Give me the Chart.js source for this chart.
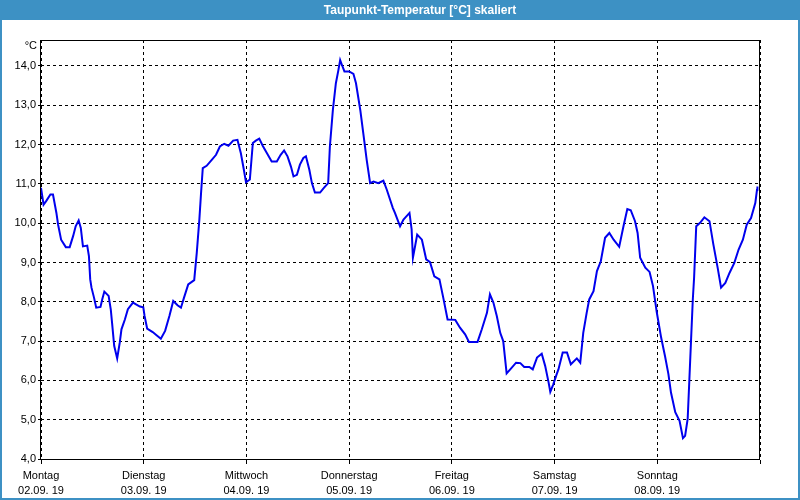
<!DOCTYPE html>
<html>
<head>
<meta charset="utf-8">
<script src="https://cdn.jsdelivr.net/npm/chart.js@4.4.1/dist/chart.umd.min.js"></script>
<style>
  html, body { margin: 0; padding: 0; background: #fff; }
  #wrap { width: 800px; height: 500px; }
</style>
</head>
<body>
<div id="wrap"><canvas id="c" width="800" height="500"></canvas></div>
<script>
const titleText = 'Taupunkt-Temperatur [°C] skaliert';
const unitLabel = '°C';
const dayNames = ['Montag', 'Dienstag', 'Mittwoch', 'Donnerstag', 'Freitag', 'Samstag', 'Sonntag'];
const dayDates = ['02.09. 19', '03.09. 19', '04.09. 19', '05.09. 19', '06.09. 19', '07.09. 19', '08.09. 19'];
const yTickValues = [4, 5, 6, 7, 8, 9, 10, 11, 12, 13, 14];

// hours since Monday 02.09.19 00:00
const hours = [
  0, 0.6, 1.2, 2.2, 2.8, 3.6, 4.0, 4.7, 5.8, 6.7, 7.5, 8.1, 8.8, 9.3, 9.8, 10.8, 11.2, 11.5, 11.8, 12.4,
  12.9, 13.9, 14.3, 14.8, 15.8, 16.3, 16.6, 17.1, 17.8, 18.4, 18.8, 19.6, 20.3, 21.5, 22.3, 23.1, 23.9, 24.2, 24.8, 26.1,
  27.0, 28.0, 29.0, 30.0, 30.9, 31.9, 32.7, 33.4, 34.4, 35.8, 36.4, 37.0, 37.4, 37.8, 38.7, 39.9, 40.9, 41.8, 42.8, 43.8,
  44.9, 45.9, 46.7, 47.4, 47.9, 48.8, 49.5, 50.2, 51.0, 51.8, 52.8, 53.9, 55.1, 56.0, 56.8, 57.6, 58.4, 59.0, 59.8, 60.5,
  61.3, 61.9, 62.7, 63.3, 64.0, 65.2, 66.1, 67.1, 67.5, 68.2, 68.9, 69.5, 69.9, 70.3, 70.9, 72.0, 73.0, 73.6, 74.6, 75.3,
  76.1, 76.9, 77.7, 78.8, 80.0, 80.8, 82.2, 82.7, 83.9, 84.7, 86.1, 86.6, 86.9, 87.4, 87.9, 89.0, 90.0, 90.9, 91.9, 93.1,
  94.0, 95.0, 96.8, 97.9, 99.1, 100.0, 102.0, 103.0, 104.2, 104.9, 105.7, 106.5, 107.3, 108.0, 108.8, 109.8, 111.0, 112.0, 112.9, 114.1,
  114.9, 115.9, 117.0, 117.8, 118.6, 119.0, 119.7, 120.5, 120.9, 121.9, 122.9, 123.8, 125.2, 126.0, 126.7, 127.5, 128.1, 129.1, 129.9, 130.8,
  131.8, 132.8, 133.8, 135.1, 136.1, 137.0, 137.8, 138.8, 139.4, 140.0, 141.2, 142.2, 143.0, 143.9, 144.9, 145.8, 146.6, 147.2, 148.2, 149.2,
  150.0, 150.5, 151.1, 151.5, 151.9, 152.3, 152.6, 153.1, 154.0, 155.0, 156.2, 157.1, 158.1, 158.9, 159.9, 160.9, 162.0, 163.0, 164.0, 164.9,
  165.9, 166.9, 167.3, 167.4
];
const dewPoint = [
  10.90, 10.47, 10.56, 10.73, 10.73, 10.26, 9.96, 9.58, 9.39, 9.39, 9.67, 9.92, 10.07, 9.88, 9.41, 9.43, 9.16, 8.57, 8.36, 8.10,
  7.85, 7.87, 8.06, 8.26, 8.15, 7.81, 7.47, 6.88, 6.56, 6.96, 7.30, 7.55, 7.81, 7.98, 7.93, 7.88, 7.86, 7.64, 7.32, 7.23,
  7.15, 7.06, 7.26, 7.64, 8.02, 7.91, 7.85, 8.10, 8.44, 8.55, 9.25, 10.09, 10.77, 11.40, 11.46, 11.61, 11.74, 11.95, 12.02, 11.97,
  12.10, 12.12, 11.78, 11.36, 11.04, 11.11, 12.04, 12.10, 12.15, 11.97, 11.78, 11.57, 11.57, 11.74, 11.85, 11.70, 11.44, 11.19, 11.23, 11.49,
  11.66, 11.70, 11.36, 11.02, 10.78, 10.78, 10.90, 11.02, 11.95, 12.88, 13.56, 13.90, 14.15, 14.03, 13.86, 13.86, 13.80, 13.56, 12.88, 12.29,
  11.61, 11.02, 11.06, 11.02, 11.08, 10.85, 10.39, 10.26, 9.92, 10.09, 10.26, 9.84, 9.12, 9.41, 9.71, 9.58, 9.08, 9.01, 8.65, 8.57,
  8.10, 7.55, 7.54, 7.34, 7.17, 6.98, 6.98, 7.30, 7.72, 8.19, 7.98, 7.64, 7.21, 7.00, 6.18, 6.30, 6.45, 6.44, 6.34, 6.34,
  6.28, 6.58, 6.68, 6.37, 5.95, 5.71, 5.90, 6.16, 6.28, 6.71, 6.71, 6.41, 6.56, 6.45, 7.21, 7.72, 8.06, 8.27, 8.78, 9.03,
  9.63, 9.75, 9.58, 9.40, 9.92, 10.36, 10.33, 10.05, 9.75, 9.12, 8.87, 8.76, 8.40, 7.72, 7.09, 6.62, 6.16, 5.69, 5.19, 4.97,
  4.53, 4.59, 5.02, 6.03, 7.05, 8.06, 8.61, 9.92, 10.01, 10.15, 10.05, 9.46, 8.87, 8.36, 8.48, 8.74, 8.99, 9.33, 9.58, 9.96,
  10.13, 10.51, 10.85, 10.93
];

const yMin = 3.975, yMax = 14.66, xMax = 168;

const points = hours.map((h, i) => ({ x: h, y: dewPoint[i] }));

const framePlugin = {
  id: 'frame',
  beforeDraw(chart) {
    const ctx = chart.ctx, W = chart.width, H = chart.height;
    ctx.save();
    ctx.fillStyle = '#ffffff';
    ctx.fillRect(0, 0, W, H);
    ctx.fillStyle = '#3d91c4';
    ctx.fillRect(0, 0, W, 20);
    ctx.fillRect(0, 20, 2, H - 20);
    ctx.fillRect(W - 2, 20, 2, H - 20);
    ctx.fillRect(0, H - 2, W, 2);
    ctx.restore();
  },
  beforeDatasetsDraw(chart) {
    const ctx = chart.ctx, a = chart.chartArea;
    const L = Math.round(a.left) - 0.5, T = Math.round(a.top) + 0.5;
    const R = Math.round(a.right) - 0.5, B = Math.round(a.bottom) - 0.5;
    ctx.save();
    ctx.strokeStyle = '#000';
    ctx.lineWidth = 1;
    ctx.setLineDash([]);
    ctx.strokeRect(L, T, R - L, B - T);
    ctx.fillStyle = '#000';
    ctx.font = '11px "Liberation Sans", Arial, sans-serif';
    ctx.textAlign = 'right';
    ctx.textBaseline = 'middle';
    ctx.fillText(unitLabel, 37, 46);
    ctx.restore();
  }
};

const tickFont = { family: '"Liberation Sans", Arial, sans-serif', size: 11, lineHeight: 15 / 11 };

new Chart(document.getElementById('c'), {
  type: 'line',
  data: {
    datasets: [{
      data: points,
      borderColor: '#0000ee',
      borderWidth: 2,
      pointRadius: 0,
      tension: 0,
      fill: false
    }]
  },
  options: {
    responsive: false,
    animation: false,
    events: [],
    layout: { padding: { left: 40, right: 0, top: 0, bottom: 0 } },
    plugins: {
      legend: { display: false },
      tooltip: { enabled: false },
      title: {
        display: true,
        text: titleText,
        color: '#ffffff',
        font: { family: '"Liberation Sans", Arial, sans-serif', size: 12, weight: 'bold', lineHeight: 1.2 },
        padding: { top: 3, bottom: 22.6 }
      }
    },
    scales: {
      x: {
        type: 'linear',
        min: 0,
        max: xMax,
        ticks: {
          stepSize: 24,
          autoSkip: false,
          maxRotation: 0,
          color: '#000',
          font: tickFont,
          padding: 4,
          callback: (v) => {
            const i = Math.round(v / 24);
            return i < dayNames.length ? [dayNames[i], dayDates[i]] : '';
          }
        },
        grid: { color: '#000', lineWidth: 1, drawTicks: true, tickLength: 4, tickColor: '#000' },
        border: { display: false, dash: [3, 3] },
        afterFit: (s) => { s.height = 40; s.paddingLeft = 0; s.paddingRight = 0; }
      },
      y: {
        position: 'left',
        min: yMin,
        max: yMax,
        ticks: {
          autoSkip: false,
          color: '#000',
          font: tickFont,
          padding: 2,
          callback: (v) => v.toFixed(1).replace('.', ',')
        },
        afterBuildTicks: (s) => {
          s.ticks = yTickValues.map(v => ({ value: v }));
        },
        grid: { color: '#000', lineWidth: 1, drawTicks: true, tickLength: 3, tickColor: '#000' },
        border: { display: false, dash: [3, 3] },
        afterFit: (s) => {
          s.width = 1; s.paddingTop = 0; s.paddingBottom = 0;
          // let the tick labels extend into the left margin instead of being clipped to the 1px axis box
          s._computeLabelArea = () => undefined;
        }
      },
      y2: {
        position: 'right',
        display: true,
        grid: { display: false },
        border: { display: false },
        ticks: { display: false },
        afterFit: (s) => { s.width = 40; s.paddingTop = 0; s.paddingBottom = 0; }
      }
    }
  },
  plugins: [framePlugin]
});
</script>
</body>
</html>
